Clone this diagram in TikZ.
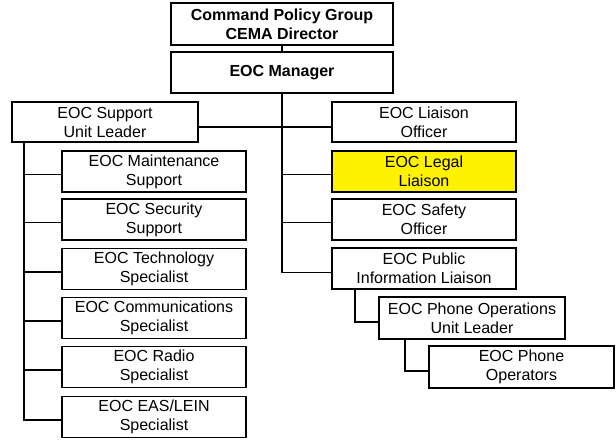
\documentclass[tikz,border=0pt]{standalone}
\usepackage{fontspec}
\setmainfont{Liberation Sans}
\begin{document}
\begin{tikzpicture}[x=1pt,y=-1pt,
  box/.style={draw=black, line width=1.4pt, fill=white, inner sep=0pt,
    align=center, font=\fontsize{16}{19}\selectfont},
  wide/.style={box, minimum width=222pt, font=\fontsize{16}{19}\selectfont\bfseries},
  unit/.style={box, minimum width=184pt, minimum height=41pt},
  link/.style={draw=black, line width=1.2pt}]
\useasboundingbox (0,0) rectangle (616,440);

% top of the chain of command
\node[wide, minimum height=42pt] (cpg) at (282,24) {Command Policy Group\\CEMA Director};
\node[wide, minimum height=41pt] (mgr) at (282,72.5) {EOC Manager};

% second level
\node[unit, minimum width=186pt, minimum height=40pt] (sup) at (105,122) {EOC Support\\Unit Leader};
\node[unit, minimum height=40pt] (lia) at (424,122) {EOC Liaison\\Officer};

% support unit members
\node[unit] (mnt) at (154,171.5) {EOC Maintenance\\Support};
\node[unit] (sec) at (154,219.5) {EOC Security\\Support};
\node[unit] (tec) at (154,269) {EOC Technology\\Specialist};
\node[unit] (com) at (154,318) {EOC Communications\\Specialist};
\node[unit] (rad) at (154,367) {EOC Radio\\Specialist};
\node[unit] (eas) at (154,417) {EOC EAS/LEIN\\Specialist};

% staff reporting to the manager
\node[unit, fill=yellow] (leg) at (424,171.5) {EOC Legal\\Liaison};
\node[unit] (saf) at (424,219.5) {EOC Safety\\Officer};
\node[unit] (pub) at (424,268.5) {EOC Public\\Information Liaison};

% phone operations
\node[unit, minimum width=186pt, minimum height=42pt] (ops) at (472,318) {EOC Phone Operations\\Unit Leader};
\node[unit, minimum width=185pt, minimum height=42pt] (opr) at (521.5,367) {EOC Phone\\Operators};

% helper coordinates for the connector lines
\coordinate (hl) at (0,127);
\coordinate (lt) at (24,0);
\coordinate (p1) at (355,0);
\coordinate (p2) at (405,0);

% connectors
\draw[link] (cpg.south) -- (mgr.north);
\draw[link] (mgr.south) |- ([yshift=-4pt]pub.west);
\draw[link] (sup.east |- hl) -- (lia.west |- hl);
\draw[link] (mgr.south |- leg.west) ++(0,3) -- ([yshift=-3pt]leg.west);
\draw[link] (mgr.south |- saf.west) ++(0,3) -- ([yshift=-3pt]saf.west);

\draw[link] (lt |- sup.south) |- ([yshift=-3pt]eas.west);
\draw[link] (lt |- mnt.west) ++(0,3) -- ([yshift=-3pt]mnt.west);
\draw[link] (lt |- sec.west) ++(0,3) -- ([yshift=-3pt]sec.west);
\draw[link] (lt |- tec.west) ++(0,3) -- ([yshift=-3pt]tec.west);
\draw[link] (lt |- com.west) ++(0,3) -- ([yshift=-3pt]com.west);
\draw[link] (lt |- rad.west) ++(0,3) -- ([yshift=-3pt]rad.west);

\draw[link] (p1 |- pub.south) |- ([yshift=-4pt]ops.west);
\draw[link] (p2 |- ops.south) |- ([yshift=-4pt]opr.west);
\end{tikzpicture}
\end{document}
